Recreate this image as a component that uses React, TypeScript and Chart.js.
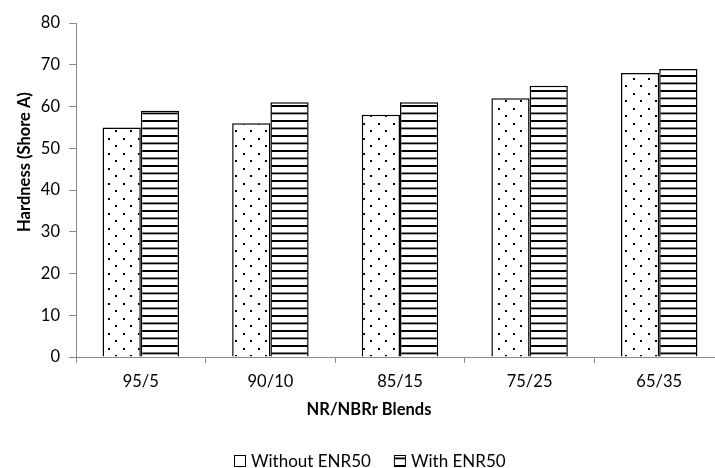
import React, { useEffect, useRef } from 'react';
import { Chart, registerables } from 'chart.js';

Chart.register(...registerables);

const categories = ['95/5', '90/10', '85/15', '75/25', '65/35'];
const withoutENR50 = [55, 56, 58, 62, 68];
const withENR50 = [59, 61, 61, 65, 69];
const seriesLabels = ['Without ENR50', 'With ENR50'];
const yMin = 0;
const yMax = 80;
const yStep = 10;
const xTitle = 'NR/NBRr Blends';
const yTitle = 'Hardness (Shore A)';

const FONT = 'Lato, "Open Sans", sans-serif';

function makeDots(): CanvasPattern {
  const c = document.createElement('canvas');
  c.width = 15;
  c.height = 15;
  const g = c.getContext('2d')!;
  g.fillStyle = '#ffffff';
  g.fillRect(0, 0, 15, 15);
  g.fillStyle = '#000000';
  g.fillRect(3, 3, 2, 2);
  g.fillRect(10, 10, 2, 2);
  return g.createPattern(c, 'repeat')!;
}

function makeStripes(): CanvasPattern {
  const c = document.createElement('canvas');
  c.width = 15;
  c.height = 15;
  const g = c.getContext('2d')!;
  g.fillStyle = '#ffffff';
  g.fillRect(0, 0, 15, 15);
  g.fillStyle = '#000000';
  g.fillRect(0, 0, 15, 2);
  g.fillRect(0, 7.5, 15, 1.8);
  return g.createPattern(c, 'repeat')!;
}

export default function App() {
  const ref = useRef<HTMLCanvasElement | null>(null);

  useEffect(() => {
    const canvas = ref.current!;
    const dots = makeDots();
    const stripes = makeStripes();
    const legendFills: (string | CanvasPattern)[] = ['#ffffff', stripes];

    const titlesAndLegend = {
      id: 'titlesAndLegend',
      afterDraw(chart: any) {
        const ctx = chart.ctx as CanvasRenderingContext2D;
        ctx.save();
        ctx.fillStyle = '#000';
        ctx.textAlign = 'center';
        ctx.textBaseline = 'middle';
        ctx.font = `bold 16.5px ${FONT}`;
        ctx.fillText(xTitle, 369, 410);
        ctx.save();
        ctx.translate(25, 162);
        ctx.rotate(-Math.PI / 2);
        ctx.fillText(yTitle, 0, 0);
        ctx.restore();

        // legend
        ctx.font = `17px ${FONT}`;
        ctx.textAlign = 'left';
        const box = 12;
        const gapBoxText = 5;
        const gapItems = 23;
        const widths = seriesLabels.map((t) => box + gapBoxText + ctx.measureText(t).width);
        const total = widths.reduce((a, b) => a + b, 0) + gapItems * (widths.length - 1);
        let x = Math.round(370 - total / 2);
        const cy = 461;
        seriesLabels.forEach((t, i) => {
          ctx.fillStyle = legendFills[i];
          ctx.fillRect(x, cy - box / 2, box, box);
          ctx.strokeStyle = '#000';
          ctx.lineWidth = 1;
          ctx.strokeRect(x + 0.5, cy - box / 2 + 0.5, box - 1, box - 1);
          ctx.fillStyle = '#000';
          ctx.fillText(t, x + box + gapBoxText, cy + 1);
          x += widths[i] + gapItems;
        });
        ctx.restore();
      },
    };

    const chart = new Chart(canvas, {
      type: 'bar',
      data: {
        labels: categories,
        datasets: [
          {
            label: seriesLabels[0],
            data: withoutENR50,
            backgroundColor: dots,
            borderColor: '#000',
            borderWidth: 1.5,
          },
          {
            label: seriesLabels[1],
            data: withENR50,
            backgroundColor: stripes,
            borderColor: '#000',
            borderWidth: 1.5,
          },
        ],
      },
      options: {
        responsive: false,
        animation: false,
        layout: { padding: { left: 0, right: 6, top: 23, bottom: 0 } },
        plugins: {
          legend: { display: false },
          tooltip: { enabled: false },
        },
        datasets: {
          bar: { categoryPercentage: 0.59, barPercentage: 1 },
        },
        scales: {
          x: {
            grid: {
              display: true,
              drawOnChartArea: false,
              drawTicks: true,
              tickLength: 6,
              color: '#8c8c8c',
              offset: true,
            },
            border: { display: true, color: '#8c8c8c', width: 1 },
            ticks: {
              color: '#000',
              font: { family: FONT, size: 16.5 },
              padding: 9,
              maxRotation: 0,
            },
            afterFit(scale: any) {
              scale.height = 111;
            },
          },
          y: {
            min: yMin,
            max: yMax,
            ticks: {
              stepSize: yStep,
              color: '#000',
              font: { family: FONT, size: 16.5 },
              padding: 9,
            },
            grid: {
              display: true,
              drawOnChartArea: false,
              drawTicks: true,
              tickLength: 7,
              color: '#8c8c8c',
            },
            border: { display: true, color: '#8c8c8c', width: 1 },
            afterFit(scale: any) {
              scale.width = 76;
            },
          },
        },
      },
      plugins: [titlesAndLegend],
    });
    return () => chart.destroy();
  }, []);

  return (
    <div
      style={{
        position: 'fixed',
        left: 0,
        top: 0,
        width: 715,
        height: 468,
        overflow: 'hidden',
        background: '#fff',
      }}
    >
      <canvas ref={ref} width={730} height={468} style={{ display: 'block' }} />
    </div>
  );
}
